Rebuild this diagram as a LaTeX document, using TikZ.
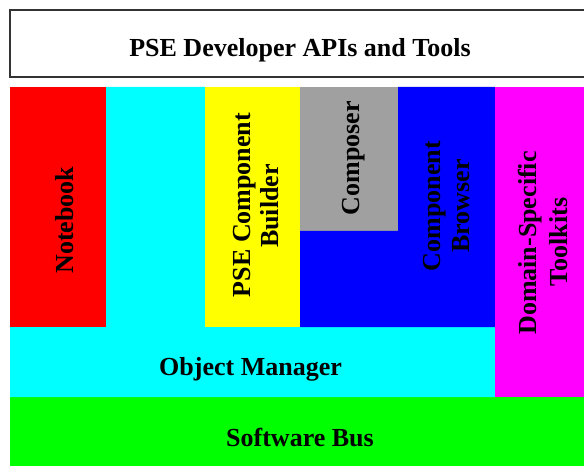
\documentclass[tikz,border=0pt]{standalone}
\usepackage{fontspec}
\setmainfont{Liberation Serif}
\definecolor{layerred}{HTML}{FF0000}
\definecolor{layercyan}{HTML}{00FFFF}
\definecolor{layeryellow}{HTML}{FFFF00}
\definecolor{layergray}{HTML}{A0A0A0}
\definecolor{layerblue}{HTML}{0000FF}
\definecolor{layermagenta}{HTML}{FF00FF}
\definecolor{layergreen}{HTML}{00FF00}
\begin{document}
\begin{tikzpicture}[x=1bp,y=-1bp,
  lbl/.style={inner sep=0pt,anchor=base,font=\bfseries\fontsize{26bp}{29bp}\selectfont},
  vlbl/.style={lbl,rotate=90}]
\useasboundingbox (0,0) rectangle (584,466);
\clip (0,0) rectangle (584,466);
\fill[white] (0,0) rectangle (584,466);

% developer layer on top
\draw[line width=1.6bp,black!80] (10,10) rectangle (610,77);

% Software bus and object manager
\fill[layergreen] (10,397) rectangle (600,470);
\fill[layercyan] (10,397) -- (10,327) -- (106,327) -- (106,87) -- (205,87)
  -- (205,327) -- (495,327) -- (495,397) -- cycle;

% tools standing on the object manager
\fill[layerred] (10,87) rectangle (106,327);
\fill[layeryellow] (205,87) rectangle (300,327);
\fill[layergray] (300,87) rectangle (398,231);
\fill[layerblue] (398,87) -- (495,87) -- (495,327) -- (300,327) -- (300,231)
  -- (398,231) -- cycle;
\fill[layermagenta] (495,87) rectangle (600,397);

% labels
\node[lbl] (apis) at (300,57) {PSE Developer APIs and Tools};
\node[lbl] (objmgr) at (250.5,375) {Object Manager};
\node[lbl] (bus) at (300,446) {Software Bus};
\node[vlbl] (notebook) at (73,220) {Notebook};
\node[vlbl] (builderA) at (250,205) {PSE Component};
\node[vlbl] (builderB) at (278,206) {Builder};
\node[vlbl] (composer) at (359,158) {Composer};
\node[vlbl] (browserA) at (440,206) {Component};
\node[vlbl] (browserB) at (469,206) {Browser};
\node[vlbl] (toolkitsA) at (536,243) {Domain-Specific};
\node[vlbl] (toolkitsB) at (567,242) {Toolkits};
\end{tikzpicture}
\end{document}
